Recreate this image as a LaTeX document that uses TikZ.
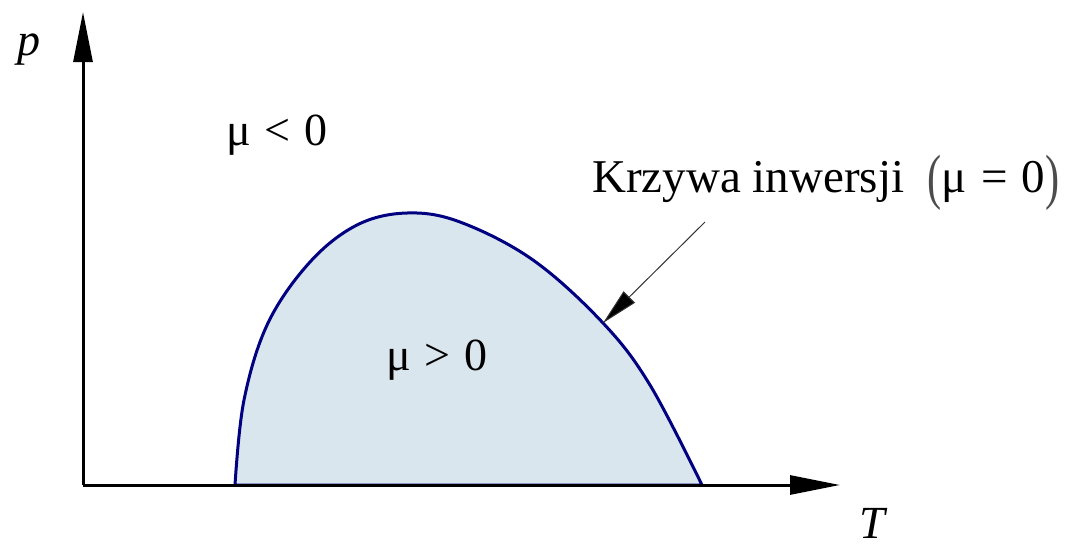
\documentclass[tikz,border=0pt]{standalone}
\usepackage{fontspec}
\setmainfont{Liberation Serif}
\usetikzlibrary{arrows.meta}
\definecolor{curveblue}{HTML}{000080}
\definecolor{fillblue}{HTML}{D9E6ED}
\tikzset{
  axis/.style={line width=3pt,-{Triangle[length=50pt,width=19pt]}},
  lbl/.style={inner sep=0pt,font=\fontsize{46}{50}\selectfont},
  leader/.style={line width=1pt,draw=black!80,-{Triangle[length=37pt,width=16pt,fill=black]}}
}
\newcommand{\tallparen}[1]{\raisebox{-0.12em}{\scalebox{0.9}[1.3]{\color{black!70}#1}}}
\newcommand{\rel}[1]{\hspace{0.3em}#1\hspace{0.3em}}
\begin{document}
\begin{tikzpicture}[x=1pt,y=-1pt]
\useasboundingbox (0,0) rectangle (1071,547);
\coordinate (O) at (83,485);
\coordinate (Ptop) at (83,12);
\coordinate (Tend) at (840,485);
\filldraw[fill=fillblue,draw=curveblue,line width=3pt]
  plot[smooth,tension=0.6] coordinates {(235,485) (244,400) (268,323) (310,262) (357,225) (407,213) (460,222) (533,260) (603,323) (650,385) (702,485)} -- cycle;
\draw[axis] (O) -- (Ptop);
\draw[axis] (O) -- (Tend);
\node[lbl,font=\fontsize{46}{50}\selectfont\itshape] (p) at (29,50) {p};
\node[lbl,font=\fontsize{46}{50}\selectfont\itshape] (T) at (872,523) {T};
\node[lbl] (neg) at (277,135) {μ\rel{<}0};
\node[lbl] (pos) at (437,360) {μ\rel{>}0};
\node[lbl,font=\fontsize{47}{51}\selectfont,anchor=west] (krz) at (592,183) {Krzywa inwersji \ \tallparen{(}μ\rel{=}0\tallparen{)}};
\coordinate (ltail) at (705,222);
\coordinate (lhead) at (603,323);
\draw[leader] (ltail) -- (lhead);
\end{tikzpicture}
\end{document}
